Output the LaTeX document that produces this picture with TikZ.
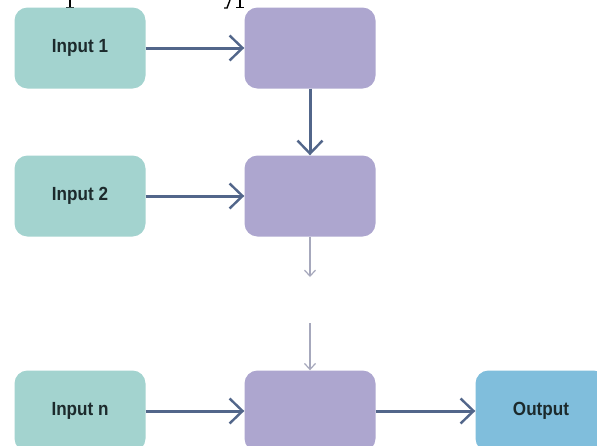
\documentclass[tikz,border=0pt]{standalone}
\usepackage{fontspec}
\setmainfont{Liberation Sans}
\newfontfamily\boxfont[FakeStretch=0.9]{Liberation Sans}
\usetikzlibrary{arrows.meta}
\definecolor{inbox}{HTML}{A3D3CF}
\definecolor{procbox}{HTML}{ADA6CF}
\definecolor{outbox}{HTML}{80BEDC}
\definecolor{flow}{HTML}{52668A}
\definecolor{skip}{HTML}{A6A8BC}
\definecolor{label}{HTML}{1C2A2C}
\tikzset{
  x=1pt, y=-1pt,
  box/.style={rounded corners=13pt, minimum width=131pt, minimum height=81pt,
    inner sep=0pt, font=\boxfont\fontsize{19}{21}\selectfont\bfseries, text=label},
  inputbox/.style={box, fill=inbox},
  procnode/.style={box, fill=procbox},
  outputbox/.style={box, fill=outbox},
  flowarrow/.style={draw=flow, line width=3pt,
    -{Straight Barb[length=13pt, width=25pt, line width=2.4pt]}},
  skiparrow/.style={draw=skip, line width=1.4pt,
    -{Straight Barb[length=6pt, width=11pt, line width=1.2pt]}},
  glyph/.style={draw=black, line width=1.4pt}
}
\begin{document}
\begin{tikzpicture}
\useasboundingbox (0,0) rectangle (597,445);
\fill[white] (0,0) rectangle (597,445);

% descenders of the text line above
\draw[glyph] (70,0) -- (70,7); \draw[glyph] (66,7.5) -- (74,7.5);
\draw[glyph] (230,0) -- (227,8) -- (224,8);
\draw[glyph] (240,0) -- (240,7); \draw[glyph] (236,7.5) -- (244,7.5);

\node[inputbox] (in1) at (80,48) {Input 1};
\node[procnode] (p1) at (310,48) {};
\node[inputbox] (in2) at (80,196) {Input 2};
\node[procnode] (p2) at (310,196) {};
\node[inputbox] (inn) at (80,411) {Input n};
\node[procnode] (pn) at (310,411) {};
\node[outputbox] (out) at (541,411) {Output};

\coordinate (gapA) at (p2.south |- 0,277);
\coordinate (gapB) at (pn.north |- 0,323);

\draw[flowarrow] (in1) -- (p1);
\draw[flowarrow] (p1) -- (p2);
\draw[flowarrow] (in2) -- (p2);
\draw[skiparrow] (p2) -- (gapA);
\draw[skiparrow] (gapB) -- (pn);
\draw[flowarrow] (inn) -- (pn);
\draw[flowarrow] (pn) -- (out);
\end{tikzpicture}
\end{document}
